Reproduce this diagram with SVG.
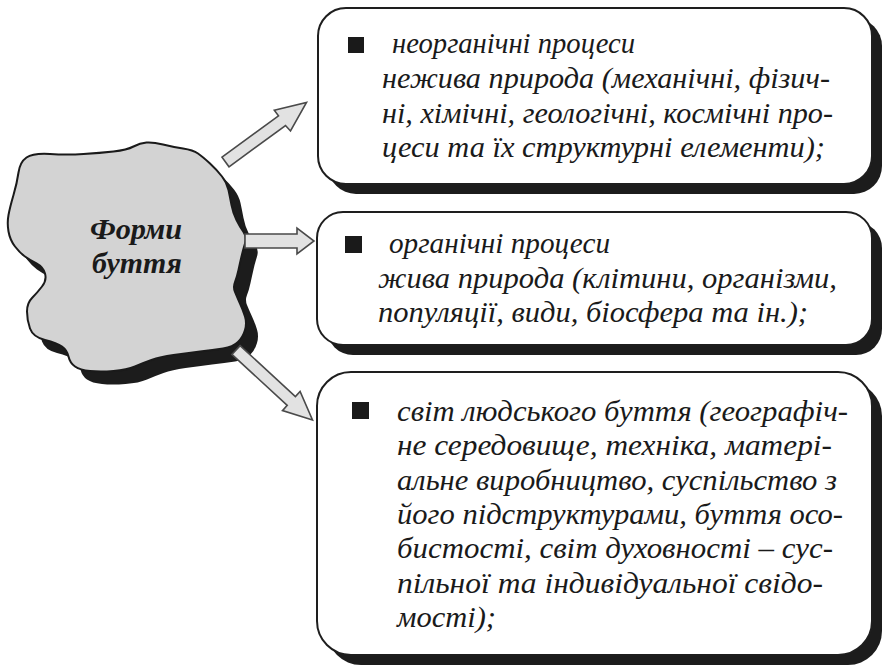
<svg xmlns="http://www.w3.org/2000/svg" width="884" height="669" viewBox="0 0 884 669">
<defs>
<style>
.box{fill:#ffffff;stroke:#1e1e1e;stroke-width:2}
.shadow{fill:#1c1c1c}
.bullet{fill:#1a1a1a}
.t{font-family:"Liberation Serif","Times New Roman",serif;font-style:italic;font-size:30px;fill:#1a1a1a}
.bt{font-family:"Liberation Serif","Times New Roman",serif;font-style:italic;font-weight:bold;font-size:29px;fill:#1a1a1a}
.arrow{fill:#e2e2e2;stroke:#4a4a4a;stroke-width:1.6;stroke-linejoin:miter}
.blob{fill:#d3d3d3;stroke:#1a1a1a;stroke-width:2;stroke-linejoin:round}
</style>
<path id="blobShape" d="M 26.5,157.5 Q 33,153 50,154 Q 67,155 83.5,154 Q 100,153 113.5,151.5 Q 127,150 133.5,146.5 Q 140,143 146.5,142.5 Q 153,142 163,144.5 Q 173,147 183,148.5 Q 193,150 198,153.5 Q 203,157 210,163.5 Q 217,170 222,176.5 Q 227,183 228.5,190 Q 230,197 231.5,205 Q 233,213 236.5,220 Q 240,227 243.5,232 Q 247,237 245,243.5 Q 243,250 241.5,256.5 Q 240,263 238.5,270 Q 237,277 235,282 Q 233,287 235,292 Q 237,297 240,303.5 Q 243,310 245,316.5 Q 247,323 245,330 Q 243,337 238,342 Q 233,347 223,348.5 Q 213,350 200,351.5 Q 187,353 173.5,355 Q 160,357 151.5,360 Q 143,363 135,366.5 Q 127,370 113.5,371 Q 100,372 90,371 Q 80,370 75,366.5 Q 70,363 68.5,356.5 Q 67,350 62,346.5 Q 57,343 45,340 Q 33,337 30,328.5 Q 27,320 27,311.5 Q 27,303 32,298 Q 37,293 42,286.5 Q 47,280 45,273.5 Q 43,267 36.5,263.5 Q 30,260 25,256.5 Q 20,253 15,246.5 Q 10,240 8.5,231.5 Q 7,223 8.5,215 Q 10,207 13.5,195 Q 17,183 18.5,172.5 Q 20,162 26.5,157.5 Z"/>
</defs>
<rect width="884" height="669" fill="#ffffff"/>

<g id="forms-of-being">
<use href="#blobShape" class="shadow" transform="translate(12,13)"/>
<use href="#blobShape" class="blob"/>
<text class="bt" x="90" y="239" textLength="92" lengthAdjust="spacingAndGlyphs">Форми</text>
<text class="bt" x="92" y="273" textLength="90" lengthAdjust="spacingAndGlyphs">буття</text>
</g>

<g id="connectors">
<polygon class="arrow" points="222,157.2 278.5,115.9 274.3,110.2 306.5,102.5 290.5,131 285.5,125.5 229,166.8"/>
<polygon class="arrow" points="245,234 297,234 297,228 314,241 297,254 297,248 245,248"/>
<polygon class="arrow" points="240.1,345.6 295.4,396.6 300.1,391.4 312.5,420 282.5,410.6 287.2,405.4 231.9,354.4"/>
</g>

<g id="inorganic">
<rect class="shadow" x="328" y="18" width="554" height="176" rx="28"/>
<rect class="box" x="318" y="8" width="554" height="176" rx="28"/>
<rect class="bullet" x="348" y="37" width="16" height="16"/>
<text class="t" x="392" y="53" textLength="243" lengthAdjust="spacingAndGlyphs">неорганічні процеси</text>
<text class="t" x="382" y="88" textLength="448" lengthAdjust="spacingAndGlyphs">нежива природа (механічні, фізич-</text>
<text class="t" x="382" y="123" textLength="451" lengthAdjust="spacingAndGlyphs">ні, хімічні, геологічні, космічні про-</text>
<text class="t" x="382" y="157" textLength="443" lengthAdjust="spacingAndGlyphs">цеси та їх структурні елементи);</text>
</g>

<g id="organic">
<rect class="shadow" x="327" y="222" width="555" height="133" rx="26"/>
<rect class="box" x="317" y="212" width="555" height="133" rx="26"/>
<rect class="bullet" x="345" y="236" width="17" height="17"/>
<text class="t" x="389" y="253" textLength="221" lengthAdjust="spacingAndGlyphs">органічні процеси</text>
<text class="t" x="378" y="288" textLength="459" lengthAdjust="spacingAndGlyphs">жива природа (клітини, організми,</text>
<text class="t" x="378" y="322" textLength="430" lengthAdjust="spacingAndGlyphs">популяції, види, біосфера та ін.);</text>
</g>

<g id="human-world">
<rect class="shadow" x="327" y="382" width="555" height="283" rx="34"/>
<rect class="box" x="317" y="372" width="555" height="283" rx="34"/>
<rect class="bullet" x="352" y="402" width="17" height="17"/>
<text class="t" x="397" y="421" textLength="451" lengthAdjust="spacingAndGlyphs">світ людського буття (географіч-</text>
<text class="t" x="397" y="455" textLength="435" lengthAdjust="spacingAndGlyphs">не середовище, техніка, матері-</text>
<text class="t" x="397" y="489.5" textLength="440" lengthAdjust="spacingAndGlyphs">альне виробництво, суспільство з</text>
<text class="t" x="397" y="524" textLength="446" lengthAdjust="spacingAndGlyphs">його підструктурами, буття осо-</text>
<text class="t" x="397" y="558" textLength="436" lengthAdjust="spacingAndGlyphs">бистості, світ духовності – сус-</text>
<text class="t" x="397" y="592.5" textLength="426" lengthAdjust="spacingAndGlyphs">пільної та індивідуальної свідо-</text>
<text class="t" x="397" y="627" textLength="99" lengthAdjust="spacingAndGlyphs">мості);</text>
</g>
</svg>
